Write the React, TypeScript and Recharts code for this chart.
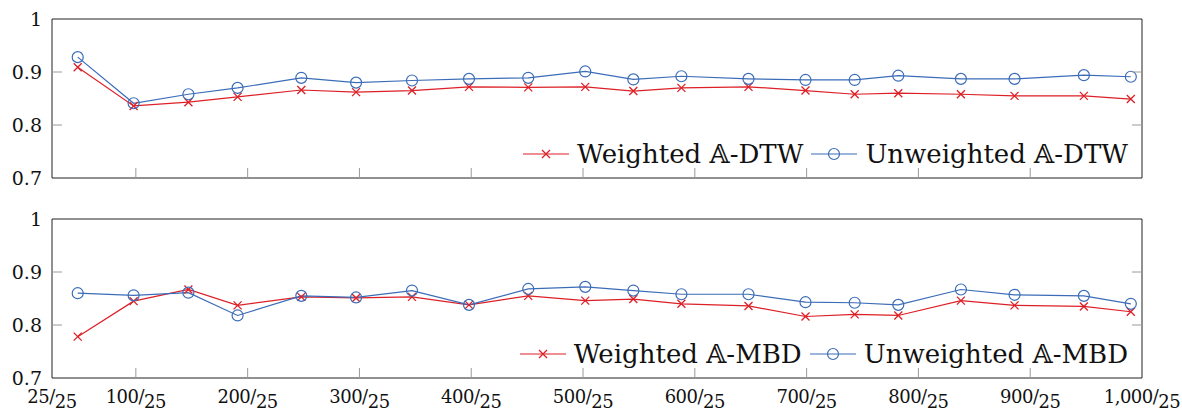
import { LineChart, Line, XAxis, YAxis, Legend } from 'recharts';

// x positions of the runs
const xs = [48, 98, 147, 191, 248, 297, 347, 398, 451, 502, 545, 588, 648, 699, 743, 782, 838, 886, 948, 990];

const dtwWeighted = [0.909, 0.836, 0.843, 0.853, 0.866, 0.862, 0.865, 0.872, 0.871, 0.872, 0.864, 0.870, 0.872, 0.865, 0.858, 0.860, 0.858, 0.855, 0.855, 0.849];
const dtwUnweighted = [0.928, 0.841, 0.858, 0.870, 0.889, 0.880, 0.884, 0.887, 0.889, 0.901, 0.886, 0.892, 0.887, 0.885, 0.885, 0.893, 0.887, 0.887, 0.894, 0.891];

const mbdWeighted = [0.778, 0.845, 0.867, 0.837, 0.853, 0.851, 0.853, 0.838, 0.855, 0.846, 0.849, 0.840, 0.836, 0.816, 0.820, 0.818, 0.846, 0.837, 0.835, 0.825];
const mbdUnweighted = [0.860, 0.856, 0.861, 0.818, 0.855, 0.852, 0.865, 0.838, 0.868, 0.872, 0.865, 0.858, 0.858, 0.843, 0.842, 0.838, 0.867, 0.857, 0.855, 0.840];

const xTicks = [25, 100, 200, 300, 400, 500, 600, 700, 800, 900, 1000];
const yTicks = [0.7, 0.8, 0.9, 1];

const FONT = "'DejaVu Serif', 'Liberation Serif', serif";
const RED = '#dd1f26';
const BLUE = '#3b6cb8';
const FRAME = '#222';
const TICK = '#9a9a9a';
const TICK_LEN = 10;

const topData = xs.map((x, i) => ({ x, w: dtwWeighted[i], u: dtwUnweighted[i] }));
const bottomData = xs.map((x, i) => ({ x, w: mbdWeighted[i], u: mbdUnweighted[i] }));

const fmtX = (v: number) => (v >= 1000 ? v.toLocaleString('en-US') : String(v));

const BottomTick = ({ x, y, payload, labels }: any) => {
  const v = payload.value;
  const edge = v === xTicks[0] || v === xTicks[xTicks.length - 1];
  return (
    <g>
      {!edge && <line x1={x} y1={y} x2={x} y2={y - TICK_LEN} stroke={TICK} />}
      {labels && (
        <text x={x} y={y + 25} textAnchor="middle" fontFamily={FONT} fontSize={18} letterSpacing={-0.5} fill="#111">
          {fmtX(v)}/<tspan dy={5}>25</tspan>
        </text>
      )}
    </g>
  );
};

const TopTick = ({ x, y, payload }: any) => {
  const v = payload.value;
  if (v === xTicks[0] || v === xTicks[xTicks.length - 1]) return <g />;
  return <line x1={x} y1={y} x2={x} y2={y + TICK_LEN} stroke={TICK} />;
};

const LeftTick = ({ x, y, payload }: any) => {
  const v = payload.value;
  const edge = v === yTicks[0] || v === yTicks[yTicks.length - 1];
  return (
    <g>
      {!edge && <line x1={x} y1={y} x2={x + TICK_LEN} y2={y} stroke={TICK} />}
      <text x={x - 10} y={y + 7} textAnchor="end" fontFamily={FONT} fontSize={19} fill="#111">
        {v === 1 ? '1' : v.toFixed(1)}
      </text>
    </g>
  );
};

const RightTick = ({ x, y, payload }: any) => {
  const v = payload.value;
  if (v === yTicks[0] || v === yTicks[yTicks.length - 1]) return <g />;
  return <line x1={x} y1={y} x2={x - TICK_LEN} y2={y} stroke={TICK} />;
};

const CrossDot = ({ cx, cy }: any) => {
  if (cx == null || cy == null) return <g />;
  const s = 4;
  return (
    <path d={`M${cx - s},${cy - s}L${cx + s},${cy + s}M${cx - s},${cy + s}L${cx + s},${cy - s}`} stroke={RED} strokeWidth={1.3} fill="none" />
  );
};

const LegendIcon = ({ kind }: { kind: string }) => (
  <svg width={46} height={20} style={{ display: 'block' }}>
    {kind === 'w' ? (
      <>
        <line x1={0} y1={10} x2={46} y2={10} stroke={RED} strokeWidth={1.2} />
        <path d="M19,6L27,14M19,14L27,6" stroke={RED} strokeWidth={1.3} />
      </>
    ) : (
      <>
        <line x1={0} y1={10} x2={46} y2={10} stroke={BLUE} strokeWidth={1.2} />
        <circle cx={23} cy={10} r={5.5} stroke={BLUE} strokeWidth={1.2} fill="none" />
      </>
    )}
  </svg>
);

const order = ['w', 'u'];

const renderLegend = (props: any) => {
  const items = [...(props.payload || [])].sort((a: any, b: any) => order.indexOf(a.dataKey) - order.indexOf(b.dataKey));
  return (
    <div style={{ display: 'flex', justifyContent: 'flex-end', alignItems: 'center', height: 40, fontFamily: FONT, fontSize: 26, color: '#111' }}>
      {items.map((p: any, i: number) => (
        <div key={i} style={{ display: 'flex', alignItems: 'center', marginLeft: i ? 8 : 0 }}>
          <LegendIcon kind={p.dataKey} />
          <span style={{ marginLeft: 8, whiteSpace: 'nowrap', lineHeight: '40px' }}>{p.value}</span>
        </div>
      ))}
    </div>
  );
};

function Panel({ data, height, labels, wName, uName }: any) {
  return (
    <LineChart width={1182} height={height} data={data} margin={{ top: 0, right: 0, bottom: 0, left: 0 }}>
      <XAxis dataKey="x" type="number" domain={[25, 1000]} ticks={xTicks} interval={0} height={height - 178}
        tickSize={0} tickMargin={0} tickLine={false} axisLine={{ stroke: FRAME }} allowDataOverflow
        tick={<BottomTick labels={labels} />} />
      <XAxis xAxisId="top" orientation="top" type="number" domain={[25, 1000]} ticks={xTicks} interval={0} height={19}
        tickSize={0} tickMargin={0} tickLine={false} axisLine={{ stroke: FRAME }} allowDataOverflow tick={<TopTick />} />
      <YAxis type="number" domain={[0.7, 1]} ticks={yTicks} interval={0} width={52}
        tickSize={0} tickMargin={0} tickLine={false} axisLine={{ stroke: FRAME }} allowDataOverflow tick={<LeftTick />} />
      <YAxis yAxisId="right" orientation="right" type="number" domain={[0.7, 1]} ticks={yTicks} interval={0} width={40}
        tickSize={0} tickMargin={0} tickLine={false} axisLine={{ stroke: FRAME }} allowDataOverflow tick={<RightTick />} />
      <Legend layout="horizontal" verticalAlign="middle" content={renderLegend}
        wrapperStyle={{ position: 'absolute', top: 134, right: 54, left: 'auto', width: 'auto', height: 40 }} />
      <Line dataKey="w" name={wName} stroke={RED} strokeWidth={1.2} dot={<CrossDot />} activeDot={false} isAnimationActive={false} />
      <Line dataKey="u" name={uName} stroke={BLUE} strokeWidth={1.2}
        dot={{ r: 5.5, fill: 'none', stroke: BLUE, strokeWidth: 1.2 }} activeDot={false} isAnimationActive={false} />
    </LineChart>
  );
}

export default function App() {
  return (
    <div style={{ position: 'absolute', left: 0, top: 0, width: 1182, height: 412, background: '#fff' }}>
      <Panel data={topData} height={200} labels={false} wName="Weighted 𝔸-DTW" uName="Unweighted 𝔸-DTW" />
      <Panel data={bottomData} height={212} labels={true} wName="Weighted 𝔸-MBD" uName="Unweighted 𝔸-MBD" />
    </div>
  );
}
